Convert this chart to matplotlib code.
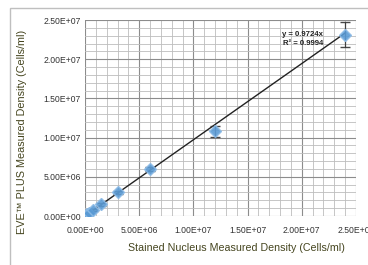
import matplotlib
matplotlib.use("Agg")
import matplotlib.pyplot as plt
from matplotlib.ticker import MultipleLocator, FuncFormatter
from matplotlib.patches import Rectangle

# data
x_vals = [9.0e4, 1.9e5, 3.8e5, 7.5e5, 1.5e6, 3.0e6, 6.0e6, 1.2e7, 2.4e7]
y_vals = [1.0e5, 2.0e5, 4.0e5, 8.0e5, 1.5e6, 3.0e6, 6.0e6, 1.08e7, 2.31e7]
y_err = [5e4, 5e4, 8e4, 1e5, 2e5, 2e5, 3e5, 7e5, 1.6e6]
slope = 0.9724
fit_x = [0, 2.4e7]
eq_text = "y = 0.9724x\nR\u00b2 = 0.9994"
xlabel = "Stained Nucleus Measured Density (Cells/ml)"
ylabel = "EVE\u2122 PLUS Measured Density (Cells/ml)"

plt.rcParams['font.family'] = ['Liberation Sans', 'DejaVu Sans']
fig = plt.figure(figsize=(3.68, 2.65), dpi=100)
fig.patch.set_facecolor('white')

# outer frame
fig.add_artist(Rectangle((10/368, -0.05), 1.1, (265-8)/265 + 0.05, transform=fig.transFigure,
                         fill=False, edgecolor='#bfbfbf', linewidth=1.0))

ax = fig.add_axes([85/368, 1 - 216/265, (356-85)/368, (216-20)/265])
ax.set_xlim(0, 2.5e7)
ax.set_ylim(0, 2.5e7)
ax.xaxis.set_major_locator(MultipleLocator(5e6))
ax.yaxis.set_major_locator(MultipleLocator(5e6))
ax.xaxis.set_minor_locator(MultipleLocator(1e6))
ax.yaxis.set_minor_locator(MultipleLocator(1e6))
ax.grid(which='major', color='#8c8c8c', linewidth=0.8)
ax.grid(which='minor', color='#bdbdbd', linewidth=0.6)
ax.set_axisbelow(True)
for s in ax.spines.values():
    s.set_visible(False)
ax.tick_params(which='both', length=0, labelsize=6.2, colors='#333333')
ax.tick_params(axis='x', pad=7)
ax.tick_params(axis='y', pad=3)


def sci(v, p):
    if v <= 0:
        return "0.00E+00"
    e = len(str(int(round(v)))) - 1
    return "%.2fE+%02d" % (v / 10**e, e)


ax.xaxis.set_major_formatter(FuncFormatter(sci))
ax.yaxis.set_major_formatter(FuncFormatter(sci))

ax.plot(fit_x, [slope * v for v in fit_x], color='#222222', linewidth=1.0, zorder=3)
ax.errorbar(x_vals, y_vals, yerr=y_err, fmt='D', color='#5b9bd5', markersize=6,
            ecolor='#333333', elinewidth=0.9, capsize=3.5, capthick=0.9, zorder=4,
            markeredgecolor='#8dbbe6', markeredgewidth=1.0, alpha=0.9)

ax.text(2.195e7, 2.26e7, eq_text, fontsize=5.6, ha='right', va='center', color='#222222',
        fontweight='bold', linespacing=1.4)

ax.set_xlabel(xlabel, fontsize=7.7, color='#45451f')
ax.set_ylabel(ylabel, fontsize=7.8, color='#45451f')
ax.xaxis.set_label_coords(0.56, -0.138)
ax.yaxis.set_label_coords(-0.214, 0.43)

fig.savefig("out.png", dpi=100)
